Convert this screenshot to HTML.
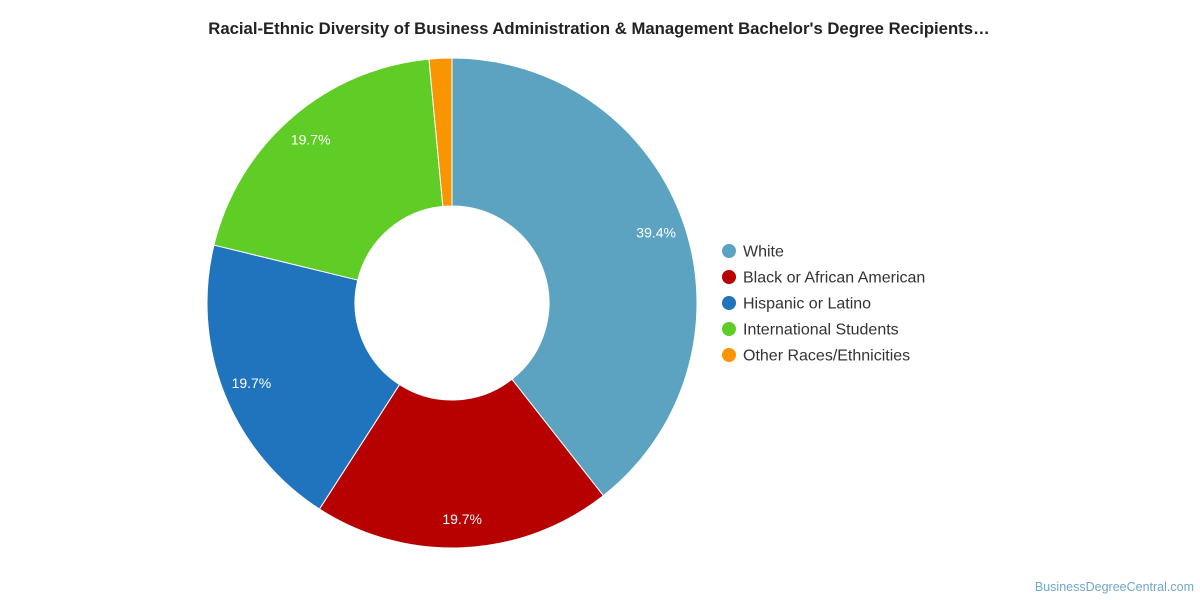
<!DOCTYPE html>
<html><head><meta charset="utf-8"><style>
body{margin:0;background:#fff;font-family:"Liberation Sans",Roboto,sans-serif}
svg{display:block}
</style></head><body>
<svg width="1200" height="600">
<text x="599" y="34" text-anchor="middle" font-weight="bold" font-size="16.7" fill="#222">Racial-Ethnic Diversity of Business Administration &amp; Management Bachelor's Degree Recipients…</text>
<g id="slices"></g>
<g id="legend"></g>
<text x="1194" y="591" text-anchor="end" font-size="12.5" fill="#6fa8c8">BusinessDegreeCentral.com</text>
</svg>
<script>
const categories=["White","Black or African American","Hispanic or Latino","International Students","Other Races/Ethnicities"];
const values=[39.4,19.7,19.7,19.7,1.5];
const labels=["39.4%","19.7%","19.7%","19.7%",""];
const colors=["#5ba3c0","#b70000","#1f74bd","#60cc26","#f99500"];
const cx=452,cy=303,R=245,r=97,LR=216;
const NS="http://www.w3.org/2000/svg";
const total=values.reduce((a,b)=>a+b,0);
const g=document.getElementById('slices');
function pt(a,rad){return [cx+rad*Math.sin(a),cy-rad*Math.cos(a)];}
let a0=0;
values.forEach((v,i)=>{
  const a1=a0+v/total*2*Math.PI;
  const [x1,y1]=pt(a0,R),[x2,y2]=pt(a1,R),[x3,y3]=pt(a1,r),[x4,y4]=pt(a0,r);
  const large=(a1-a0)>Math.PI?1:0;
  const p=document.createElementNS(NS,'path');
  p.setAttribute('d',`M${x1},${y1}A${R},${R} 0 ${large} 1 ${x2},${y2}L${x3},${y3}A${r},${r} 0 ${large} 0 ${x4},${y4}Z`);
  p.setAttribute('fill',colors[i]);p.setAttribute('stroke','#fff');p.setAttribute('stroke-width','1');
  
  
  g.appendChild(p);
  if(labels[i]){
    const [lx,ly]=pt((a0+a1)/2,LR);
    const t=document.createElementNS(NS,'text');
    t.setAttribute('x',lx);t.setAttribute('y',ly+5);t.setAttribute('text-anchor','middle');
    t.setAttribute('font-size','14');t.setAttribute('fill','#fff');
    t.textContent=labels[i];
    
    
    g.appendChild(t);
  }
  a0=a1;
});
const lg=document.getElementById('legend');
categories.forEach((c,i)=>{
  const y=251+i*26;
  const e=document.createElementNS(NS,'g');
  
  
  const ci=document.createElementNS(NS,'circle');
  ci.setAttribute('cx',729);ci.setAttribute('cy',y);ci.setAttribute('r',7);ci.setAttribute('fill',colors[i]);
  const t=document.createElementNS(NS,'text');
  t.setAttribute('x',743);t.setAttribute('y',y+5.5);t.setAttribute('font-size','16');t.setAttribute('fill','#333');
  t.textContent=c;
  e.appendChild(ci);e.appendChild(t);lg.appendChild(e);
});
</script>
</body></html>
